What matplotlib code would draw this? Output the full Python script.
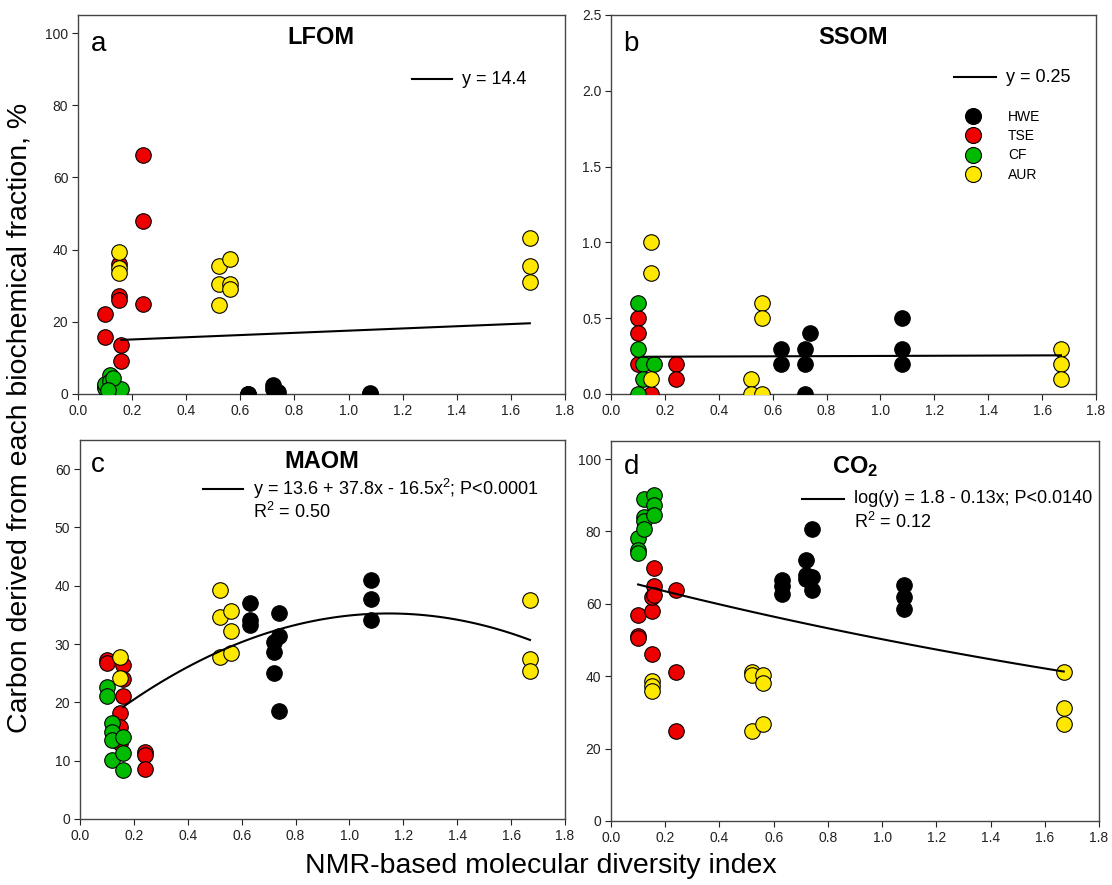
import numpy as np
import matplotlib
matplotlib.use("Agg")
import matplotlib.pyplot as plt
from matplotlib.lines import Line2D

plt.rcParams['font.family'] = ['Liberation Sans', 'DejaVu Sans']
plt.rcParams['mathtext.fontset'] = 'custom'
plt.rcParams['mathtext.rm'] = 'Liberation Sans'
plt.rcParams['mathtext.it'] = 'Liberation Sans'
plt.rcParams['mathtext.bf'] = 'Liberation Sans:bold'

# ---------------- data ----------------
groups = ['HWE', 'TSE', 'CF', 'AUR']
group_colors = ['#000000', '#ee0000', '#00bb00', '#ffe800']

# Panel a: LFOM
lfom_hwe_x = [0.63, 0.63, 0.63, 0.72, 0.72, 0.74, 1.08, 1.08, 1.08]
lfom_hwe_y = [0.0, 0.0, 0.0, 2.5, 1.5, 0.6, 0.3, 0.0, 0.0]
lfom_tse_x = [0.10, 0.10, 0.15, 0.15, 0.15, 0.16, 0.16, 0.24, 0.24, 0.24]
lfom_tse_y = [22.1, 15.9, 35.9, 27.1, 26.0, 13.5, 9.2, 66.2, 47.8, 24.8]
lfom_cf_x = [0.10, 0.10, 0.10, 0.12, 0.12, 0.12, 0.16, 0.13, 0.11]
lfom_cf_y = [2.3, 1.8, 2.7, 5.2, 3.7, 0.5, 1.4, 4.3, 1.0]
lfom_aur_x = [0.15, 0.15, 0.15, 0.52, 0.52, 0.52, 0.56, 0.56, 0.56, 1.67, 1.67, 1.67]
lfom_aur_y = [39.4, 35.0, 33.6, 35.6, 30.6, 24.6, 37.4, 30.6, 29.0, 43.2, 35.6, 31.1]
lfom_fit = [14.5, 3.05]          # intercept, slope of drawn line
lfom_fit_range = [0.16, 1.67]

# Panel b: SSOM
ssom_hwe_x = [0.63, 0.63, 0.72, 0.72, 0.72, 0.74, 1.08, 1.08, 1.08]
ssom_hwe_y = [0.30, 0.20, 0.30, 0.20, 0.00, 0.40, 0.50, 0.30, 0.20]
ssom_tse_x = [0.10, 0.10, 0.10, 0.15, 0.24, 0.24]
ssom_tse_y = [0.50, 0.40, 0.20, 0.00, 0.20, 0.10]
ssom_cf_x = [0.10, 0.10, 0.12, 0.12, 0.10, 0.16]
ssom_cf_y = [0.60, 0.30, 0.20, 0.10, 0.00, 0.20]
ssom_aur_x = [0.15, 0.15, 0.15, 0.52, 0.52, 0.56, 0.56, 0.56, 1.67, 1.67, 1.67]
ssom_aur_y = [1.00, 0.80, 0.10, 0.10, 0.00, 0.60, 0.50, 0.00, 0.30, 0.20, 0.10]
ssom_fit = [0.245, 0.006]
ssom_fit_range = [0.12, 1.67]

# Panel c: MAOM
maom_hwe_x = [0.63, 0.63, 0.63, 0.72, 0.72, 0.72, 0.74, 0.74, 0.74, 1.08, 1.08, 1.08]
maom_hwe_y = [37.1, 34.1, 33.3, 30.4, 28.7, 25.1, 35.3, 31.4, 18.6, 41.0, 37.7, 34.2]
maom_tse_x = [0.10, 0.10, 0.15, 0.15, 0.15, 0.16, 0.16, 0.16, 0.24, 0.24, 0.24]
maom_tse_y = [27.3, 26.7, 18.1, 15.8, 13.0, 26.4, 24.0, 21.1, 11.5, 11.0, 8.5]
maom_cf_x = [0.10, 0.10, 0.12, 0.12, 0.12, 0.12, 0.16, 0.16, 0.16]
maom_cf_y = [22.7, 21.1, 16.4, 15.0, 13.5, 10.1, 14.1, 11.3, 8.4]
maom_aur_x = [0.15, 0.15, 0.52, 0.52, 0.52, 0.56, 0.56, 0.56, 1.67, 1.67, 1.67]
maom_aur_y = [27.7, 24.1, 39.3, 34.7, 27.8, 35.7, 32.2, 28.5, 37.5, 27.4, 25.3]
maom_fit = [13.6, 37.8, -16.5]
maom_fit_range = [0.16, 1.67]

# Panel d: CO2
co2_hwe_x = [0.63, 0.63, 0.63, 0.72, 0.72, 0.72, 0.74, 0.74, 0.74, 1.08, 1.08, 1.08]
co2_hwe_y = [66.6, 65.0, 62.7, 72.1, 68.0, 66.8, 80.7, 67.5, 63.9, 65.3, 62.0, 58.6]
co2_tse_x = [0.10, 0.10, 0.10, 0.15, 0.15, 0.15, 0.16, 0.16, 0.16, 0.24, 0.24, 0.24]
co2_tse_y = [57.0, 51.0, 50.5, 57.9, 46.2, 62.0, 69.8, 64.8, 62.5, 63.8, 41.2, 25.0]
co2_cf_x = [0.10, 0.10, 0.10, 0.12, 0.12, 0.12, 0.12, 0.16, 0.16, 0.16]
co2_cf_y = [78.1, 75.0, 74.0, 89.1, 84.0, 83.0, 80.8, 90.2, 87.3, 84.5]
co2_aur_x = [0.15, 0.15, 0.15, 0.52, 0.52, 0.52, 0.56, 0.56, 0.56, 1.67, 1.67, 1.67]
co2_aur_y = [38.6, 37.2, 35.8, 41.2, 40.3, 24.8, 40.3, 38.1, 26.7, 41.2, 31.2, 26.7]
co2_fit = [1.828, -0.127]        # log10(y) = a + b x
co2_fit_range = [0.10, 1.67]

x_ticks = np.round(np.arange(0, 1.81, 0.2), 1)

# ---------------- figure ----------------
W, H = 1112, 885
fig = plt.figure(figsize=(W / 100, H / 100), dpi=100)

def px_rect(l, t, r, b):
    return [l / W, 1 - b / H, (r - l) / W, (b - t) / H]

ax_a = fig.add_axes(px_rect(78, 15, 565, 394))
ax_b = fig.add_axes(px_rect(611, 15, 1096, 394))
ax_c = fig.add_axes(px_rect(80, 440, 565, 819))
ax_d = fig.add_axes(px_rect(611, 441, 1099, 821))

panels = [
    (ax_a, [(lfom_hwe_x, lfom_hwe_y), (lfom_tse_x, lfom_tse_y), (lfom_cf_x, lfom_cf_y), (lfom_aur_x, lfom_aur_y)],
     (0, 105), np.arange(0, 101, 20), '{:.0f}'),
    (ax_b, [(ssom_hwe_x, ssom_hwe_y), (ssom_tse_x, ssom_tse_y), (ssom_cf_x, ssom_cf_y), (ssom_aur_x, ssom_aur_y)],
     (0, 2.5), np.arange(0, 2.51, 0.5), '{:.1f}'),
    (ax_c, [(maom_hwe_x, maom_hwe_y), (maom_tse_x, maom_tse_y), (maom_cf_x, maom_cf_y), (maom_aur_x, maom_aur_y)],
     (0, 65), np.arange(0, 61, 10), '{:.0f}'),
    (ax_d, [(co2_hwe_x, co2_hwe_y), (co2_tse_x, co2_tse_y), (co2_cf_x, co2_cf_y), (co2_aur_x, co2_aur_y)],
     (0, 105), np.arange(0, 101, 20), '{:.0f}'),
]

spine_col = '#454545'
for ax, series, ylim, yt, fmt in panels:
    for (xs, ys), col in zip(series, group_colors):
        ax.scatter(xs, ys, s=125, c=col, edgecolors='black', linewidths=0.8, zorder=3)
    ax.set_xlim(0, 1.8)
    ax.set_ylim(*ylim)
    ax.set_xticks(x_ticks)
    ax.set_xticklabels(['{:.1f}'.format(v) for v in x_ticks])
    ax.set_yticks(yt)
    ax.set_yticklabels([fmt.format(v) for v in yt])
    ax.tick_params(direction='out', length=4, width=0.8, labelsize=10, pad=3, colors='#222222')
    for sp in ax.spines.values():
        sp.set_color(spine_col)
        sp.set_linewidth(1.0)

line_kw = dict(color='black', lw=1.5, zorder=4)

# fit lines
xa = np.linspace(*lfom_fit_range, 50)
ax_a.plot(xa, lfom_fit[0] + lfom_fit[1] * xa, **line_kw)
xb = np.linspace(*ssom_fit_range, 50)
ax_b.plot(xb, ssom_fit[0] + ssom_fit[1] * xb, **line_kw)
xc = np.linspace(*maom_fit_range, 100)
ax_c.plot(xc, maom_fit[0] + maom_fit[1] * xc + maom_fit[2] * xc ** 2, **line_kw)
xd = np.linspace(*co2_fit_range, 100)
ax_d.plot(xd, 10 ** (co2_fit[0] + co2_fit[1] * xd), **line_kw)

def ftxt(x, y, s, **kw):
    fig.text(x / W, 1 - y / H, s, **kw)

# titles and panel letters
ftxt(321, 37, 'LFOM', fontsize=17, fontweight='bold', ha='center', va='center')
ftxt(853, 37, 'SSOM', fontsize=17, fontweight='bold', ha='center', va='center')
ftxt(322, 461, 'MAOM', fontsize=17, fontweight='bold', ha='center', va='center')
ftxt(855, 467, r'CO$_\mathbf{2}$', fontsize=17, fontweight='bold', ha='center', va='center')
ftxt(91, 44, 'a', fontsize=20, ha='left', va='center')
ftxt(623, 44, 'b', fontsize=20, ha='left', va='center')
ftxt(91, 465, 'c', fontsize=20, ha='left', va='center')
ftxt(624, 467, 'd', fontsize=20, ha='left', va='center')

# fit legends (line sample + text)
def fit_label(x0, x1, y, text, tx):
    fig.add_artist(Line2D([x0 / W, x1 / W], [1 - y / H, 1 - y / H], color='black', lw=1.5))
    ftxt(tx, y, text, fontsize=13, ha='left', va='center')

fit_label(412, 452, 79, 'y = 14.4', 462)
fit_label(954, 996, 77, 'y = 0.25', 1006)
fit_label(203, 243, 489, r'y = 13.6 + 37.8x - 16.5x$^2$; P<0.0001', 253)
ftxt(253, 512, r'R$^2$ = 0.50', fontsize=13, ha='left', va='center')
fit_label(802, 844, 499, 'log(y) = 1.8 - 0.13x; P<0.0140', 854)
ftxt(854, 522, r'R$^2$ = 0.12', fontsize=13, ha='left', va='center')

# group legend in panel b
handles = [Line2D([], [], marker='o', ls='none', markersize=11.5, markerfacecolor=c,
                  markeredgecolor='black', markeredgewidth=0.8) for c in group_colors]
ax_b.legend(handles, groups, loc='upper left', bbox_to_anchor=(0.715, 0.768), frameon=False,
            fontsize=10, handletextpad=1.9, labelspacing=0.38, borderpad=0, handlelength=1.2)

# axis labels
ftxt(20, 418, 'Carbon derived from each biochemical fraction, %', fontsize=20.5,
     rotation=90, ha='center', va='center')
ftxt(541, 866, 'NMR-based molecular diversity index', fontsize=20.5, ha='center', va='center')

fig.savefig('out.png', dpi=100)
